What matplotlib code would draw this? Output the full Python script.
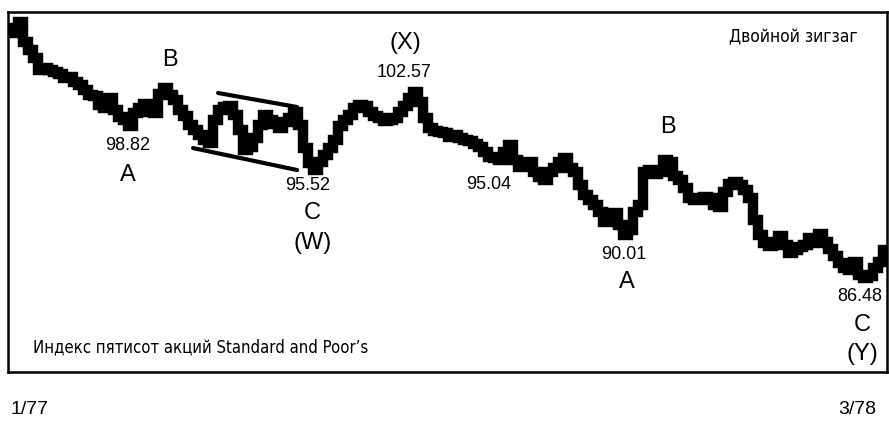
import numpy as np
import matplotlib.pyplot as plt

# S&P 500, Jan 1977 - Mar 1978, every ~2 trading days
prices = [
    106.76, 107.16, 107.64, 106.03, 105.39, 104.74, 103.78, 103.94, 103.78, 103.62,
    103.46, 103.13, 103.21, 102.81, 102.57, 102.17, 101.76, 101.68, 100.96, 100.72,
    101.52, 100.56, 99.99, 99.75, 99.27, 100.32, 100.72, 101.04, 100.40, 100.32,
    101.85, 102.33, 101.76, 101.36, 100.56, 100.07, 99.35, 98.95, 98.54, 98.14,
    97.90, 99.75, 100.56, 100.80, 100.88, 100.16, 98.95, 97.34, 97.58, 98.30,
    99.35, 100.15, 99.75, 99.43, 99.11, 99.59, 99.91, 100.40, 99.35, 97.50,
    96.29, 95.73, 96.37, 96.93, 97.50, 98.14, 99.27, 99.75, 100.15, 100.72,
    100.96, 100.88, 100.40, 100.07, 99.91, 99.67, 99.75, 99.91, 100.40, 100.88,
    101.52, 102.01, 101.20, 99.91, 99.11, 98.87, 98.79, 98.71, 98.38, 98.54,
    98.30, 98.14, 98.06, 97.82, 97.58, 97.18, 96.77, 96.69, 96.53, 97.18,
    97.74, 96.53, 95.97, 96.21, 96.37, 95.57, 95.16, 94.92, 95.57, 95.89,
    96.37, 96.69, 95.89, 95.57, 94.52, 93.71, 93.31, 92.91, 92.35, 91.54,
    92.10, 92.26, 91.30, 90.50, 90.90, 92.35, 92.91, 95.57, 95.73, 95.41,
    95.57, 96.53, 96.37, 95.24, 94.92, 94.28, 93.47, 93.31, 93.31, 93.55,
    93.47, 92.91, 92.75, 93.96, 94.60, 94.76, 94.52, 94.12, 93.47, 91.70,
    90.50, 89.85, 89.61, 89.93, 90.42, 89.69, 89.05, 89.29, 89.53, 89.69,
    90.26, 89.85, 90.58, 89.93, 89.37, 88.80, 88.24, 87.84, 87.68, 88.32,
    87.27, 87.03, 87.19, 87.84, 88.32, 89.29,
]

# triangle drawn around the B wave (start idx, start price, end idx, end price)
channel_upper = [41.6, 101.93, 57.4, 100.80]
channel_lower = [36.6, 97.50, 57.4, 95.73]

# wave labels: (text, idx, price, size)
wave_labels = [
    ('98.82', 23.6, 97.74, 13), ('A', 23.6, 95.33, 17), ('B', 32.0, 104.58, 17),
    ('95.52', 59.6, 94.45, 13), ('C', 60.4, 92.27, 17), ('(W)', 60.6, 89.86, 17),
    ('(X)', 79.0, 105.95, 17), ('102.57', 78.8, 103.62, 13),
    ('95.04', 95.8, 94.53, 13), ('B', 131.6, 99.19, 17),
    ('90.01', 122.8, 88.89, 13), ('A', 123.4, 86.72, 17),
    ('86.48', 170.0, 85.51, 13), ('C', 170.4, 83.26, 17), ('(Y)', 170.4, 80.93, 17),
]

x = np.arange(len(prices))

fig = plt.figure(figsize=(8.89, 4.22), dpi=100)
ax = fig.add_axes([0.009, 0.1185, 0.989, 0.853])

ax.plot(x, prices, color='black', linewidth=7.5, drawstyle='steps-mid',
        solid_joinstyle='miter')

ax.plot(channel_upper[0::2], channel_upper[1::2], color='black', linewidth=3,
        solid_capstyle='round')
ax.plot(channel_lower[0::2], channel_lower[1::2], color='black', linewidth=3,
        solid_capstyle='round')

for txt, i, p, fs in wave_labels:
    ax.text(i, p, txt, ha='center', va='center', fontsize=fs,
            family='Liberation Sans', color='black')

ax.text(0.966, 0.93, 'Двойной зигзаг', transform=ax.transAxes, ha='right',
        va='center', fontsize=12.5, family='DejaVu Sans', stretch='condensed',
        color='black')
ax.text(0.028, 0.07, 'Индекс пятисот акций Standard and Poor’s',
        transform=ax.transAxes, ha='left', va='center', fontsize=12,
        family='DejaVu Sans', stretch='condensed', color='black')

ax.set_xlim(-0.4, 175.4)
ax.set_ylim(79.47, 108.45)
ax.set_xticks([])
ax.set_yticks([])
for s in ax.spines.values():
    s.set_linewidth(1.8)

fig.text(10 / 889, 1 - 410 / 422, '1/77', ha='left', va='center', fontsize=14,
         family='Liberation Sans')
fig.text(876 / 889, 1 - 410 / 422, '3/78', ha='right', va='center', fontsize=14,
         family='Liberation Sans')

fig.savefig('out.png', dpi=100)
